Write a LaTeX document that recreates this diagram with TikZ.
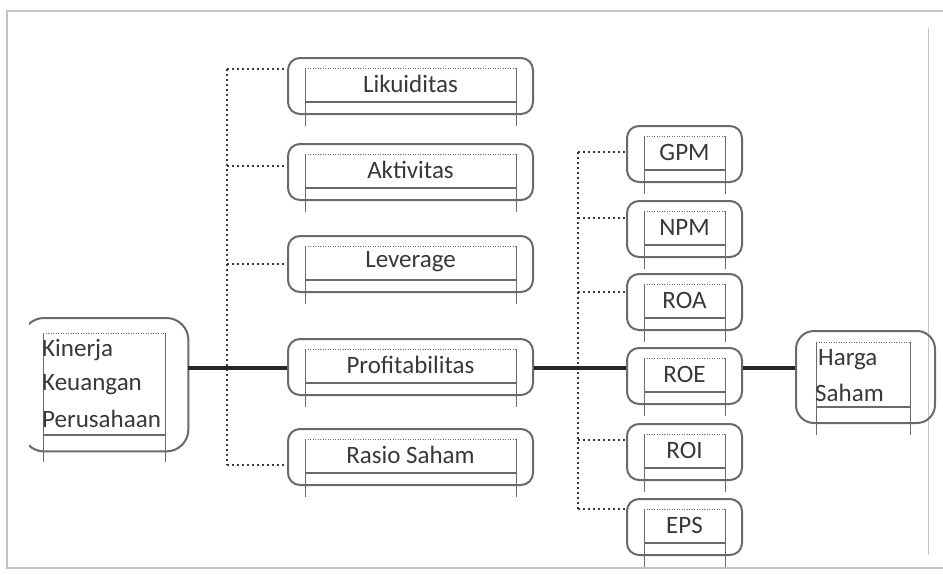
\documentclass[tikz,border=0pt]{standalone}
\usepackage{fontspec}
\setmainfont{Carlito}
\usetikzlibrary{calc}
\definecolor{bxc}{HTML}{6A6A6A}
\definecolor{txc}{HTML}{383838}
\definecolor{frc}{HTML}{C4C4C4}
\definecolor{dtc}{HTML}{3A3A3A}
\tikzset{
  obox/.style={draw=bxc, line width=2pt, rounded corners=12pt, inner sep=0pt},
  innerdot/.style={draw=bxc, line width=0.6pt, dash pattern=on 1pt off 1.5pt},
  innerv/.style={draw=bxc, line width=0.7pt},
  innerh/.style={draw=bxc, line width=1.6pt},
  txt/.style={text=txc, font=\fontsize{25}{30}\selectfont, inner sep=0pt},
  thk/.style={draw=black!85, line width=3.5pt},
  dotc/.style={draw=dtc, line width=2pt, dash pattern=on 2pt off 3pt},
  frame/.style={draw=frc, line width=1.2pt}
}
\newcommand\wbx[5]{%
  \node[obox, minimum width=#4pt, minimum height=56pt, anchor=north west] (#1) at (#2,#3) {};
  \draw[innerdot] ($(#1.north west)+(18,11)$) -- ($(#1.north east)+(-18,11)$);
  \draw[innerv] ($(#1.north west)+(18,11)$) -- ($(#1.south west)+(18,11)$);
  \draw[innerv] ($(#1.north east)+(-18,11)$) -- ($(#1.south east)+(-18,11)$);
  \draw[innerh] ($(#1.south west)+(18,-13)$) -- ($(#1.south east)+(-18,-13)$);
  \node[txt] (#1-t) at ($(#1.north)+(0,27)$) {#5};
}
\begin{document}
\begin{tikzpicture}[x=1pt,y=-1pt]
\useasboundingbox (0,0) rectangle (943,574);
\fill[white] (0,0) rectangle (943,574);
% outer frame
\draw[frame] (943,11) -- (7,11) -- (7,568) -- (943,568);
\draw[frame, line width=1pt] (928,28) -- (928,555);

% middle column
\wbx{lik}{287}{57}{245}{Likuiditas}
\wbx{akt}{287}{143}{245}{Aktivitas}
\wbx{lev}{287}{235}{245}{Leverage}
\wbx{prof}{287}{338}{245}{Profitabilitas}
\wbx{ras}{287}{428}{245}{Rasio Saham}

% right column
\wbx{gpm}{626}{125}{115}{GPM}
\wbx{npm}{626}{200}{115}{NPM}
\wbx{roa}{626}{273}{115}{ROA}
\wbx{roe}{626}{347}{115}{ROE}
\wbx{roi}{626}{423}{115}{ROI}
\wbx{eps}{626}{498}{115}{EPS}

% Kinerja Keuangan Perusahaan
\node[inner sep=0pt, minimum width=166pt, minimum height=133pt, anchor=north west] (kin) at (22,318) {};
\begin{scope}
  \clip (29,300) rectangle (200,475);
  \draw[obox, rounded corners=22pt] (kin.north west) rectangle (kin.south east);
\end{scope}
\draw[innerdot] (43,333) -- (165,333);
\draw[innerv] (43,333) -- (43,462);
\draw[innerv] (165,333) -- (165,462);
\draw[innerh] (43,435) -- (165,435);
\node[txt, anchor=west] (kin1) at (42,350) {Kinerja};
\node[txt, anchor=west] (kin2) at (42,385) {Keuangan};
\node[txt, anchor=west] (kin3) at (42,419) {Perusahaan};

% Harga Saham
\node[obox, rounded corners=18pt, minimum width=139pt, minimum height=92pt, anchor=north west] (hs) at (795,330) {};
\draw[innerdot] (816,342) -- (910,342);
\draw[innerv] (816,342) -- (816,435);
\draw[innerv] (910,342) -- (910,435);
\draw[innerh] (816,407) -- (910,407);
\node[txt, anchor=west] (hs1) at (818,360) {Harga};
\node[txt, anchor=west] (hs2) at (815,393) {Saham};

% dotted connectors, middle
\coordinate (ma) at (227,69);
\coordinate (mb) at (227,166);
\coordinate (mc) at (227,264);
\coordinate (me) at (227,465);
\draw[dotc] (ma) -- (me);
\draw[dotc] (ma) -- (ma -| lik.west);
\draw[dotc] (mb) -- (mb -| akt.west);
\draw[dotc] (mc) -- (mc -| lev.west);
\draw[dotc] (me) -- (me -| ras.west);

% dotted connectors, right
\coordinate (ra) at (578,152);
\coordinate (rb) at (578,218);
\coordinate (rc) at (578,292);
\coordinate (rd) at (578,440);
\coordinate (re) at (578,509);
\draw[dotc] (ra) -- (re);
\draw[dotc] (ra) -- (ra -| gpm.west);
\draw[dotc] (rb) -- (rb -| npm.west);
\draw[dotc] (rc) -- (rc -| roa.west);
\draw[dotc] (rd) -- (rd -| roi.west);
\draw[dotc] (re) -- (re -| eps.west);

% thick connectors
\coordinate (ml) at (0,368);
\draw[thk] (ml -| kin.east) -- (ml -| prof.west);
\draw[thk] (ml -| prof.east) -- (ml -| roe.west);
\draw[thk] (ml -| roe.east) -- (ml -| hs.west);
\end{tikzpicture}
\end{document}
